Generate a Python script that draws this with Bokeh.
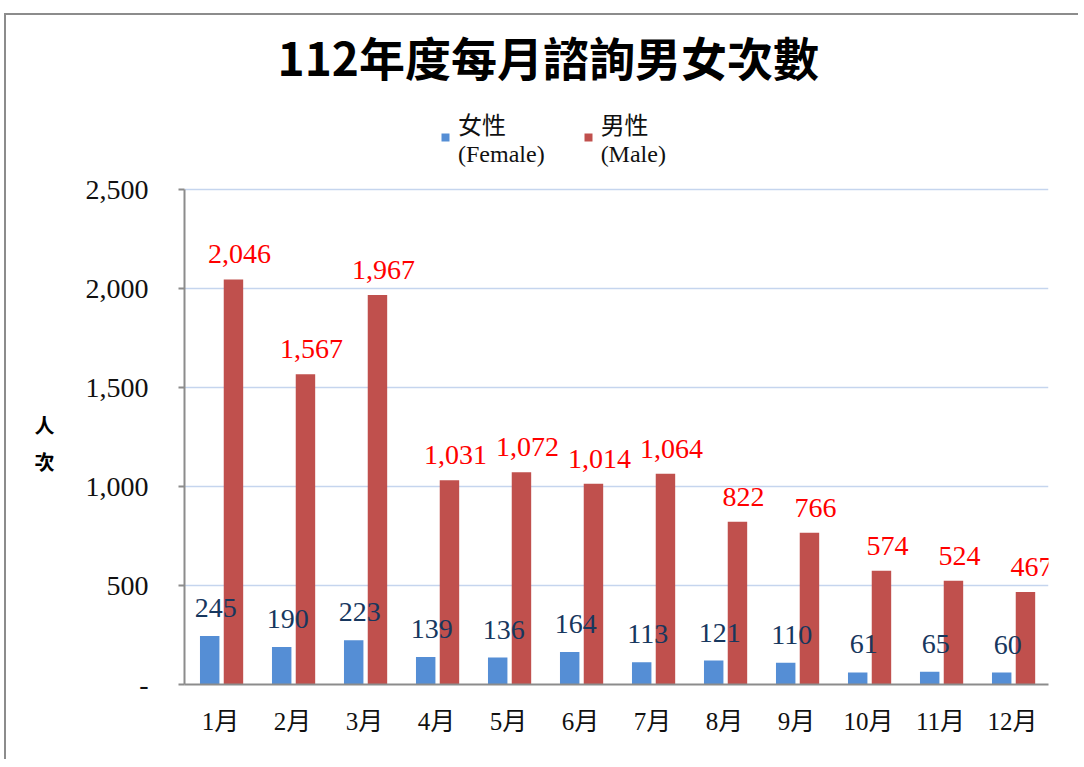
from bokeh.plotting import figure
from bokeh.models import (ColumnDataSource, FactorRange, Range1d, Legend,
                          LegendItem, FixedTicker)
from bokeh.transform import dodge
from bokeh.core.properties import value
from bokeh.embed import file_html
from bokeh.resources import INLINE

# ---- data ----
months = ["1月", "2月", "3月", "4月", "5月", "6月", "7月", "8月", "9月", "10月", "11月", "12月"]
female = [245, 190, 223, 139, 136, 164, 113, 121, 110, 61, 65, 60]
male = [2046, 1567, 1967, 1031, 1072, 1014, 1064, 822, 766, 574, 524, 467]
y_ticks = [0, 500, 1000, 1500, 2000, 2500]
y_tick_labels = ["-", "500", "1,000", "1,500", "2,000", "2,500"]
title_text = "112年度每月諮詢男女次數"
series_labels = ["女性\n(Female)", "男性\n(Male)"]
y_axis_label = "\n\n\n人\n次"

FEMALE_C = "#558ed5"
MALE_C = "#c0504d"
SERIF = "'Liberation Serif', 'Noto Sans CJK TC'"
CJK = "Noto Sans CJK TC"

src = ColumnDataSource(dict(
    month=months,
    female=female,
    male=male,
    female_lbl=[f"{v:,}" for v in female],
    male_lbl=[f"{v:,}" for v in male],
))

# frame extends above the 2,500 line to hold the legend; axis is bounded to 0-2,500
p = figure(x_range=FactorRange(*months, range_padding=0),
           y_range=Range1d(0, 3000),
           frame_width=864, frame_height=594,
           min_border_left=178, min_border_right=30,
           min_border_top=75, min_border_bottom=75,
           output_backend="svg", toolbar_location=None)
p.styles = {"margin-left": "4px", "margin-top": "13px",
            "border-left": "2px solid #8c8c8c", "border-top": "2px solid #8c8c8c"}
p.outline_line_color = None
p.background_fill_color = "white"
p.border_fill_color = "white"

# title
p.title.text = title_text
p.title.align = "left"
p.title.offset = 93
p.title.text_font = CJK
p.title.text_font_style = "bold"
p.title.text_font_size = "46px"
p.title.text_color = "black"
p.title.standoff = 3

rf = p.vbar(x=dodge("month", -0.15, range=p.x_range), top="female", width=0.27,
            source=src, fill_color=FEMALE_C, line_color=None)
rm = p.vbar(x=dodge("month", 0.18, range=p.x_range), top="male", width=0.27,
            source=src, fill_color=MALE_C, line_color=None)

p.text(x=dodge("month", -0.15, range=p.x_range), y="female", text="female_lbl",
       source=src, text_align="center", text_baseline="alphabetic",
       x_offset=6, y_offset=-28, text_font=value("Liberation Serif"),
       text_font_size="28px", text_color="#17375e")
p.text(x=dodge("month", 0.18, range=p.x_range), y="male", text="male_lbl",
       source=src, text_align="center", text_baseline="alphabetic",
       x_offset=6, y_offset=-25, text_font=value("Liberation Serif"),
       text_font_size="28px", text_color="#ff0000")

# axes
p.yaxis.bounds = (0, 2500)
p.yaxis.ticker = FixedTicker(ticks=y_ticks)
p.yaxis.major_label_overrides = {t: l for t, l in zip(y_ticks, y_tick_labels)}
p.yaxis.major_label_text_font = "Liberation Serif"
p.yaxis.major_label_text_font_size = "28px"
p.yaxis.major_label_text_color = "#111111"
p.yaxis.major_label_standoff = 30
p.yaxis.major_tick_out = 6
p.yaxis.major_tick_in = 0
p.yaxis.minor_tick_line_color = None
p.yaxis.axis_line_color = "#8c8c8c"
p.yaxis.axis_line_width = 2
p.yaxis.major_tick_line_color = "#8c8c8c"
p.yaxis.major_tick_line_width = 2
p.yaxis.axis_label = y_axis_label
p.yaxis.axis_label_orientation = "horizontal"
p.yaxis.axis_label_text_font = CJK
p.yaxis.axis_label_text_font_style = "bold"
p.yaxis.axis_label_text_font_size = "20px"
p.yaxis.axis_label_text_line_height = 1.28
p.yaxis.axis_label_standoff = 28
p.yaxis.axis_label_text_color = "black"

p.xaxis.major_label_text_font = SERIF
p.xaxis.major_label_text_font_size = "25px"
p.xaxis.major_label_text_color = "#111111"
p.xaxis.major_label_standoff = 17
p.xaxis.major_tick_line_color = None
p.xaxis.axis_line_color = "#8c8c8c"
p.xaxis.axis_line_width = 2

p.xgrid.grid_line_color = None
p.ygrid.ticker = FixedTicker(ticks=y_ticks)
p.ygrid.grid_line_color = "#c5d5ee"
p.ygrid.grid_line_width = 1.5

# legend (inside the extended frame, above the plotting area)
legend = Legend(items=[LegendItem(label=series_labels[0], renderers=[rf]),
                       LegendItem(label=series_labels[1], renderers=[rm])],
                orientation="horizontal", location=(256, 516),
                glyph_width=10, glyph_height=10, label_standoff=8, spacing=38,
                padding=0, margin=0, border_line_color=None,
                background_fill_alpha=0,
                label_text_font=SERIF, label_text_font_size="24px",
                label_text_line_height=1.62,
                label_text_color="#111111")
p.add_layout(legend)

open("out.html", "w").write(file_html(p, INLINE))
